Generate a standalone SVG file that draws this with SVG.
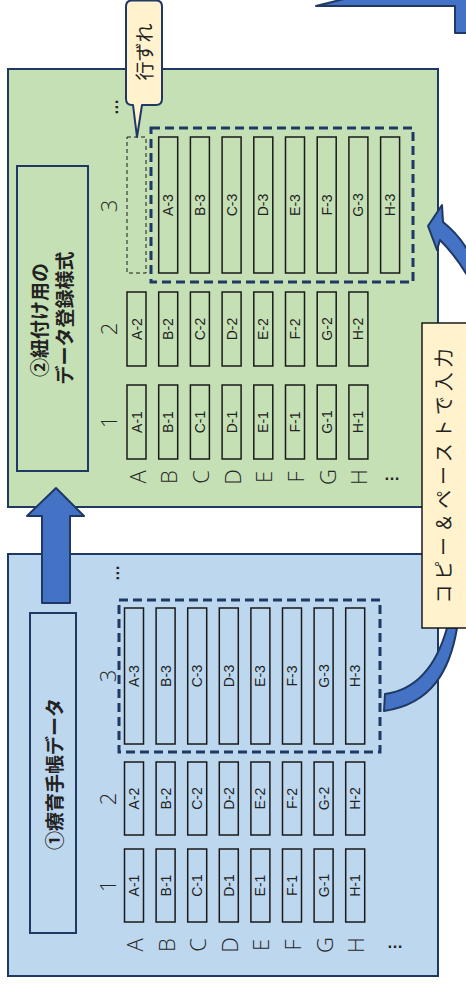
<svg xmlns="http://www.w3.org/2000/svg" width="466" height="984" viewBox="0 0 466 984">
<style>
.panelB{fill:#BDD7EE;stroke:#1F3864;stroke-width:2}
.panelG{fill:#C5E0B4;stroke:#1F3864;stroke-width:2}
.tbox{fill:none;stroke:#1F3864;stroke-width:2}
.cell{fill:none;stroke:#1a1a1a;stroke-width:1.5}
.dash{fill:none;stroke:#1F3864;stroke-width:3;stroke-dasharray:9 5}
.ghost{fill:none;stroke:#1a1a1a;stroke-width:1;stroke-dasharray:4 3}
.arrow{fill:#4472C4;stroke:#1F3864;stroke-width:2;stroke-linejoin:round}
.t{text-anchor:middle;dominant-baseline:central;fill:#222}
.cl{font-family:"Liberation Sans",Arial,sans-serif;font-size:14px}
.hd{font-family:"Open Sans","Noto Sans",sans-serif;font-size:22px;font-weight:300;fill:#262626}
.jp{font-family:"Noto Sans CJK JP",sans-serif}
.title{font-family:"Noto Sans CJK JP",sans-serif;font-weight:bold;font-size:19px;fill:#222}
.dots{font-family:"Liberation Sans",sans-serif;font-size:16px;font-weight:bold;fill:#222}
</style>

<!-- Panel 1: blue -->
<g id="panel-ryoiku">
<rect class="panelB" x="8" y="554" width="430" height="422"/>
</g>
<!-- Panel 2: green -->
<g id="panel-himoduke">
<rect class="panelG" x="8" y="69" width="430" height="438"/>
</g>

<g id="title-ryoiku">
<rect class="tbox" x="30" y="613" width="46" height="320"/>
<text class="t title" transform="translate(53,774) rotate(-90)">①療育手帳データ</text>
</g>

<g id="title-himoduke">
<rect class="tbox" x="17" y="166" width="71" height="305"/>
<text class="t title" transform="translate(38,320) rotate(-90)">②紐付け用の</text>
<text class="t title" transform="translate(63,318) rotate(-90)">データ登録様式</text>
</g>

<!-- Blue panel headers -->
<g id="headers-ryoiku">
<text class="t hd" transform="translate(107,886) rotate(-90)">1</text>
<text class="t hd" transform="translate(107,799) rotate(-90)">2</text>
<text class="t hd" transform="translate(107,676) rotate(-90)">3</text>
<text class="t dots" transform="translate(113,573) rotate(-90)">…</text>
<text class="t hd" transform="translate(134,945) rotate(-90)">A</text>
<text class="t hd" transform="translate(165.6,945) rotate(-90)">B</text>
<text class="t hd" transform="translate(197.2,945) rotate(-90)">C</text>
<text class="t hd" transform="translate(228.8,945) rotate(-90)">D</text>
<text class="t hd" transform="translate(260.4,945) rotate(-90)">E</text>
<text class="t hd" transform="translate(292,945) rotate(-90)">F</text>
<text class="t hd" transform="translate(323.6,945) rotate(-90)">G</text>
<text class="t hd" transform="translate(355.2,945) rotate(-90)">H</text>
<text class="t dots" x="395" y="942">…</text>
</g>

<g id="cells-ryoiku">
<rect class="cell" x="124.5" y="849" width="19" height="73"/>
<rect class="cell" x="156.1" y="849" width="19" height="73"/>
<rect class="cell" x="187.7" y="849" width="19" height="73"/>
<rect class="cell" x="219.3" y="849" width="19" height="73"/>
<rect class="cell" x="250.9" y="849" width="19" height="73"/>
<rect class="cell" x="282.5" y="849" width="19" height="73"/>
<rect class="cell" x="314.1" y="849" width="19" height="73"/>
<rect class="cell" x="345.7" y="849" width="19" height="73"/>
<rect class="cell" x="124.5" y="762" width="19" height="73"/>
<rect class="cell" x="156.1" y="762" width="19" height="73"/>
<rect class="cell" x="187.7" y="762" width="19" height="73"/>
<rect class="cell" x="219.3" y="762" width="19" height="73"/>
<rect class="cell" x="250.9" y="762" width="19" height="73"/>
<rect class="cell" x="282.5" y="762" width="19" height="73"/>
<rect class="cell" x="314.1" y="762" width="19" height="73"/>
<rect class="cell" x="345.7" y="762" width="19" height="73"/>
<rect class="cell" x="124.5" y="608" width="19" height="136"/>
<rect class="cell" x="156.1" y="608" width="19" height="136"/>
<rect class="cell" x="187.7" y="608" width="19" height="136"/>
<rect class="cell" x="219.3" y="608" width="19" height="136"/>
<rect class="cell" x="250.9" y="608" width="19" height="136"/>
<rect class="cell" x="282.5" y="608" width="19" height="136"/>
<rect class="cell" x="314.1" y="608" width="19" height="136"/>
<rect class="cell" x="345.7" y="608" width="19" height="136"/>
<text class="t cl" transform="translate(134,885.5) rotate(-90)">A-1</text>
<text class="t cl" transform="translate(165.6,885.5) rotate(-90)">B-1</text>
<text class="t cl" transform="translate(197.2,885.5) rotate(-90)">C-1</text>
<text class="t cl" transform="translate(228.8,885.5) rotate(-90)">D-1</text>
<text class="t cl" transform="translate(260.4,885.5) rotate(-90)">E-1</text>
<text class="t cl" transform="translate(292,885.5) rotate(-90)">F-1</text>
<text class="t cl" transform="translate(323.6,885.5) rotate(-90)">G-1</text>
<text class="t cl" transform="translate(355.2,885.5) rotate(-90)">H-1</text>
<text class="t cl" transform="translate(134,798.5) rotate(-90)">A-2</text>
<text class="t cl" transform="translate(165.6,798.5) rotate(-90)">B-2</text>
<text class="t cl" transform="translate(197.2,798.5) rotate(-90)">C-2</text>
<text class="t cl" transform="translate(228.8,798.5) rotate(-90)">D-2</text>
<text class="t cl" transform="translate(260.4,798.5) rotate(-90)">E-2</text>
<text class="t cl" transform="translate(292,798.5) rotate(-90)">F-2</text>
<text class="t cl" transform="translate(323.6,798.5) rotate(-90)">G-2</text>
<text class="t cl" transform="translate(355.2,798.5) rotate(-90)">H-2</text>
<text class="t cl" transform="translate(134,676) rotate(-90)">A-3</text>
<text class="t cl" transform="translate(165.6,676) rotate(-90)">B-3</text>
<text class="t cl" transform="translate(197.2,676) rotate(-90)">C-3</text>
<text class="t cl" transform="translate(228.8,676) rotate(-90)">D-3</text>
<text class="t cl" transform="translate(260.4,676) rotate(-90)">E-3</text>
<text class="t cl" transform="translate(292,676) rotate(-90)">F-3</text>
<text class="t cl" transform="translate(323.6,676) rotate(-90)">G-3</text>
<text class="t cl" transform="translate(355.2,676) rotate(-90)">H-3</text>
</g>
<g id="select-ryoiku">
<rect class="dash" x="119" y="600" width="261" height="152"/>
</g>

<!-- Green panel headers -->
<g id="headers-himoduke">
<text class="t hd" transform="translate(108,422) rotate(-90)">1</text>
<text class="t hd" transform="translate(108,329) rotate(-90)">2</text>
<text class="t hd" transform="translate(108,206) rotate(-90)">3</text>
<text class="t dots" transform="translate(112,107) rotate(-90)">…</text>
<text class="t hd" transform="translate(136.5,477) rotate(-90)">A</text>
<text class="t hd" transform="translate(168.2,477) rotate(-90)">B</text>
<text class="t hd" transform="translate(199.9,477) rotate(-90)">C</text>
<text class="t hd" transform="translate(231.6,477) rotate(-90)">D</text>
<text class="t hd" transform="translate(263.3,477) rotate(-90)">E</text>
<text class="t hd" transform="translate(295,477) rotate(-90)">F</text>
<text class="t hd" transform="translate(326.7,477) rotate(-90)">G</text>
<text class="t hd" transform="translate(358.4,477) rotate(-90)">H</text>
<text class="t dots" x="392" y="474">…</text>
</g>

<g id="cells-himoduke">
<rect class="cell" x="127" y="385" width="19" height="74"/>
<rect class="cell" x="158.7" y="385" width="19" height="74"/>
<rect class="cell" x="190.4" y="385" width="19" height="74"/>
<rect class="cell" x="222.1" y="385" width="19" height="74"/>
<rect class="cell" x="253.8" y="385" width="19" height="74"/>
<rect class="cell" x="285.5" y="385" width="19" height="74"/>
<rect class="cell" x="317.2" y="385" width="19" height="74"/>
<rect class="cell" x="348.9" y="385" width="19" height="74"/>
<rect class="cell" x="127" y="292" width="19" height="74"/>
<rect class="cell" x="158.7" y="292" width="19" height="74"/>
<rect class="cell" x="190.4" y="292" width="19" height="74"/>
<rect class="cell" x="222.1" y="292" width="19" height="74"/>
<rect class="cell" x="253.8" y="292" width="19" height="74"/>
<rect class="cell" x="285.5" y="292" width="19" height="74"/>
<rect class="cell" x="317.2" y="292" width="19" height="74"/>
<rect class="cell" x="348.9" y="292" width="19" height="74"/>
<rect class="ghost" x="127" y="137" width="19" height="136"/>
<rect class="cell" x="158.7" y="137" width="19" height="136"/>
<rect class="cell" x="190.4" y="137" width="19" height="136"/>
<rect class="cell" x="222.1" y="137" width="19" height="136"/>
<rect class="cell" x="253.8" y="137" width="19" height="136"/>
<rect class="cell" x="285.5" y="137" width="19" height="136"/>
<rect class="cell" x="317.2" y="137" width="19" height="136"/>
<rect class="cell" x="348.9" y="137" width="19" height="136"/>
<rect class="cell" x="380.6" y="137" width="19" height="136"/>
<text class="t cl" transform="translate(136.5,422) rotate(-90)">A-1</text>
<text class="t cl" transform="translate(168.2,422) rotate(-90)">B-1</text>
<text class="t cl" transform="translate(199.9,422) rotate(-90)">C-1</text>
<text class="t cl" transform="translate(231.6,422) rotate(-90)">D-1</text>
<text class="t cl" transform="translate(263.3,422) rotate(-90)">E-1</text>
<text class="t cl" transform="translate(295,422) rotate(-90)">F-1</text>
<text class="t cl" transform="translate(326.7,422) rotate(-90)">G-1</text>
<text class="t cl" transform="translate(358.4,422) rotate(-90)">H-1</text>
<text class="t cl" transform="translate(136.5,329) rotate(-90)">A-2</text>
<text class="t cl" transform="translate(168.2,329) rotate(-90)">B-2</text>
<text class="t cl" transform="translate(199.9,329) rotate(-90)">C-2</text>
<text class="t cl" transform="translate(231.6,329) rotate(-90)">D-2</text>
<text class="t cl" transform="translate(263.3,329) rotate(-90)">E-2</text>
<text class="t cl" transform="translate(295,329) rotate(-90)">F-2</text>
<text class="t cl" transform="translate(326.7,329) rotate(-90)">G-2</text>
<text class="t cl" transform="translate(358.4,329) rotate(-90)">H-2</text>
<text class="t cl" transform="translate(168.2,205) rotate(-90)">A-3</text>
<text class="t cl" transform="translate(199.9,205) rotate(-90)">B-3</text>
<text class="t cl" transform="translate(231.6,205) rotate(-90)">C-3</text>
<text class="t cl" transform="translate(263.3,205) rotate(-90)">D-3</text>
<text class="t cl" transform="translate(295,205) rotate(-90)">E-3</text>
<text class="t cl" transform="translate(326.7,205) rotate(-90)">F-3</text>
<text class="t cl" transform="translate(358.4,205) rotate(-90)">G-3</text>
<text class="t cl" transform="translate(390.1,205) rotate(-90)">H-3</text>
</g>
<g id="select-himoduke">
<rect class="dash" x="151" y="128" width="262" height="154"/>
</g>

<!-- Connectors -->
<g id="connectors">
<polygon class="arrow" points="56,488 84,516 70,516 70,603 42,603 42,516 27,516"/>
<path class="arrow" d="M447,628 Q430,688 385,694 L384,711 C432,704 450,670 457,628 Z"/>
<path class="arrow" d="M428,226 L442,205 L443,222 C452,229 462,240 470,254 L470,280 C462,266 452,252 440,240 L437,250 Z"/>
<polygon class="arrow" points="316,6 352,-3 470,-3 470,33 455,33 455,6"/>
</g>

<!-- Callouts -->
<g id="callout-gyozure">
<path d="M132,0.5 H156 Q162,0.5 162,6.5 V99 Q162,105 156,105 H142 L137,137 L133,105 H132 Q126,105 126,99 V6.5 Q126,0.5 132,0.5 Z" fill="#FFF2CC" stroke="#1F3864" stroke-width="2" stroke-linejoin="round"/>
<text class="t jp" font-size="19" fill="#333" transform="translate(143,52) rotate(-90)">行ずれ</text>
</g>

<g id="callout-copy">
<rect x="422" y="323" width="50" height="305" fill="#FFF2CC" stroke="#1a1a1a" stroke-width="1.5"/>
<text class="t jp" font-size="19" fill="#333" textLength="255" lengthAdjust="spacing" transform="translate(442,476) rotate(-90)">コピー＆ペーストで入力</text>
</g>
</svg>
